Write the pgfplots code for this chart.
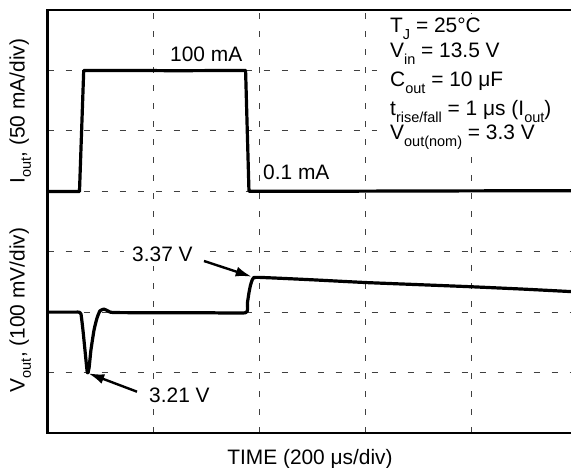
\documentclass[border=0pt]{standalone}
\usepackage{fontspec}
\setmainfont{Liberation Sans}
\usepackage{pgfplots}
\pgfplotsset{compat=1.18}
\usetikzlibrary{arrows.meta}
\newcommand\fs{\fontsize{20.9}{25}\selectfont}
\newcommand\sub[1]{\raisebox{-0.3em}{\fontsize{14.5}{14.5}\selectfont #1}}
\begin{document}
\begin{tikzpicture}[x=1pt,y=1pt]
\path[use as bounding box] (0,0) rectangle (571,468);
\begin{axis}[
  at={(47.7pt,35pt)}, anchor=south west,
  scale only axis, width=523.3pt, height=423pt,
  xmin=0, xmax=4.94, ymin=0, ymax=7,
  xtick={1,2,3,4}, ytick={1,2,3,4,5,6},
  xticklabels={}, yticklabels={},
  major tick length=0pt,
  grid=major,
  major grid style={black!75, line width=0.9pt, dash pattern=on 6pt off 12pt},
  axis line style={draw=none},
  clip=true,
]
% I_out trace (divisions)
\addplot[black, line width=3.2pt, line join=round] coordinates {
(0,3.995) (0.30,3.995) (0.34,6.0) (0.8,6.0) (1.2,5.995) (1.868,6.0) (1.90,4.0) (2.5,4.0) (3.5,4.005) (4.94,4.01)
};
% V_out trace (divisions)
\addplot[black, line width=3.2pt, line join=round, smooth, tension=0.3] coordinates {
(0,2.0) (0.26,2.0) (0.292,2.0) (0.314,1.97) (0.333,1.70) (0.352,1.37) (0.374,1.0) (0.39,1.07) (0.408,1.37) (0.437,1.70) (0.465,1.90) (0.493,2.02) (0.531,2.05) (0.569,2.02) (0.616,1.994) (1.0,1.99) (1.5,1.99) (1.868,1.99) (1.885,2.15) (1.90,2.32) (1.915,2.45) (1.93,2.53) (1.946,2.572) (2.0,2.575) (2.2,2.56) (2.5,2.535) (3.0,2.49) (3.5,2.455) (4.0,2.42) (4.5,2.38) (4.94,2.34)
};
\end{axis}
% white background behind the conditions block
\fill[white] (377,320) rectangle (571,454);
% annotations
\node[font=\fs, anchor=base west, inner sep=0pt] at (170,406.3) {100 mA};
\node[font=\fs, anchor=base west, inner sep=0pt] at (263,288) {0.1 mA};
\node[font=\fs, anchor=base west, fill=white, inner xsep=8pt, inner ysep=4pt] at (124,206) {3.37 V};
\node[font=\fs, anchor=base west, fill=white, inner xsep=8pt, inner ysep=4pt] at (141,65) {3.21 V};
\draw[line width=2.4pt, -{Latex[length=16pt,width=10pt]}] (204,207) -- (251.7,191.3);
\draw[line width=2.4pt, -{Latex[length=16pt,width=10pt]}] (137,76.3) -- (88.3,94.7);
\node[font=\fs, anchor=base west, inner sep=0pt] at (390,435) {T\sub{J} = 25°C};
\node[font=\fs, anchor=base west, inner sep=0pt] at (390,410) {V\sub{in} = 13.5 V};
\node[font=\fs, anchor=base west, inner sep=0pt] at (390,381) {C\sub{out} = 10 μF};
\node[font=\fs, anchor=base west, inner sep=0pt] at (390,352) {t\sub{rise/fall} = 1 μs (I\sub{out})};
\node[font=\fs, anchor=base west, inner sep=0pt] at (390,328) {V\sub{out(nom)} = 3.3 V};
% frame (right side cut off as in the reference)
\draw[line width=2.7pt, line join=miter] (571,458) -- (47.7,458) -- (47.7,35) -- (571,35);
% axis labels
\node[font=\fs, rotate=90, anchor=base, inner sep=0pt] at (24.5,357) {I\sub{out}, (50 mA/div)};
\node[font=\fs, rotate=90, anchor=base, inner sep=0pt] at (24.5,158) {V\sub{out}, (100 mV/div)};
\node[font=\fs, anchor=base, inner sep=0pt] at (310,3) {TIME (200 μs/div)};
\end{tikzpicture}
\end{document}
